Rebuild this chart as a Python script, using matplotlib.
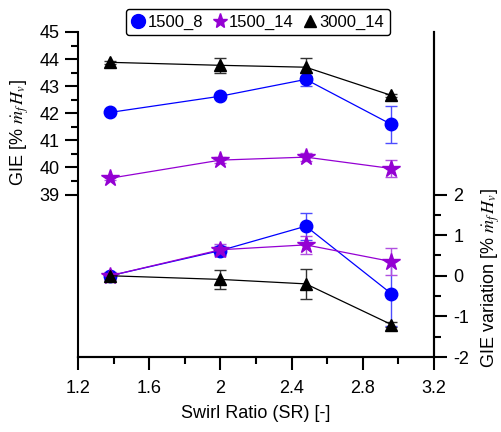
import matplotlib
matplotlib.use("Agg")
import matplotlib.pyplot as plt
from matplotlib.ticker import FixedLocator
from matplotlib.lines import Line2D

plt.rcParams['font.family'] = ['Liberation Sans', 'DejaVu Sans']
plt.rcParams['mathtext.fontset'] = 'stix'
plt.rcParams['axes.unicode_minus'] = False

swirl = [1.38, 2.0, 2.48, 2.96]

gie_1500_8 = [42.03, 42.63, 43.25, 41.59]
gie_1500_8_err = [0.06, 0.08, 0.24, 0.69]
gie_1500_14 = [39.60, 40.27, 40.38, 39.96]
gie_1500_14_err = [0.08, 0.12, 0.15, 0.30]
gie_3000_14 = [43.88, 43.77, 43.70, 42.66]
gie_3000_14_err = [0.05, 0.28, 0.33, 0.06]

var_1500_8 = [0.0, 0.62, 1.22, -0.44]
var_1500_8_err = [0.08, 0.12, 0.33, 0.80]
var_1500_14 = [0.0, 0.64, 0.76, 0.35]
var_1500_14_err = [0.10, 0.15, 0.22, 0.33]
var_3000_14 = [0.0, -0.09, -0.20, -1.20]
var_3000_14_err = [0.06, 0.23, 0.36, 0.07]

series_names = ['1500_8', '1500_14', '3000_14']
colors = ['#0000FF', '#9400D3', '#000000']
ecolors = ['#4D4DFF', '#B050E0', '#333333']
markers = ['o', '*', '^']
msizes = [9, 13, 9]

fig = plt.figure(figsize=(5.01, 4.32), dpi=100)
ax = fig.add_axes([78/501, 1-357/432, (434-78)/501, (357-32)/432])
ax2 = ax.twinx()

left_data = [(gie_1500_8, gie_1500_8_err), (gie_1500_14, gie_1500_14_err), (gie_3000_14, gie_3000_14_err)]
right_data = [(var_1500_8, var_1500_8_err), (var_1500_14, var_1500_14_err), (var_3000_14, var_3000_14_err)]

for i in range(3):
    y, e = left_data[i]
    ax.errorbar(swirl, y, yerr=e, color=colors[i], ecolor=ecolors[i], marker=markers[i],
                ms=msizes[i], lw=0.9, elinewidth=1.0, capsize=4, capthick=1.0)
    y, e = right_data[i]
    ax2.errorbar(swirl, y, yerr=e, color=colors[i], ecolor=ecolors[i], marker=markers[i],
                 ms=msizes[i], lw=0.9, elinewidth=1.0, capsize=4, capthick=1.0)

handles = [Line2D([], [], ls='none', marker=markers[i], color=colors[i],
                  ms=[10, 11, 9][i], label=series_names[i]) for i in range(3)]

ax.set_xlim(1.2, 3.2)
ax.set_ylim(33, 45)
ax2.set_ylim(-2, 6)

ax.set_xticks([1.2, 1.6, 2.0, 2.4, 2.8, 3.2])
ax.set_xticklabels(['1.2', '1.6', '2', '2.4', '2.8', '3.2'])
ax.xaxis.set_minor_locator(FixedLocator([1.4, 1.8, 2.2, 2.6, 3.0]))
ax.set_yticks([39, 40, 41, 42, 43, 44, 45])
ax.yaxis.set_minor_locator(FixedLocator([39.5, 40.5, 41.5, 42.5, 43.5, 44.5]))
ax2.set_yticks([-2, -1, 0, 1, 2])
ax2.yaxis.set_minor_locator(FixedLocator([-1.5, -0.5, 0.5, 1.5]))

for a in (ax, ax2):
    a.spines['top'].set_visible(False)
    for s in a.spines.values():
        s.set_linewidth(1.5)
    a.tick_params(which='major', direction='out', length=9.5, width=1.5, labelsize=13, pad=3.5)
    a.tick_params(which='minor', direction='out', length=5, width=1.5)
ax.tick_params(axis='x', which='major', pad=7)
ax.tick_params(axis='y', which='both', right=False)
ax2.tick_params(axis='y', which='major', pad=4.5)
ax2.spines['left'].set_visible(False)

ax.set_xlabel('Swirl Ratio (SR) [-]', fontsize=13, labelpad=6)
ax.set_ylabel(r'GIE [% $\dot{m}_f\,H_v$]', fontsize=13)
ax.yaxis.set_label_coords((31-78)/356, 0.69)
ax2.set_ylabel(r'GIE variation [% $\dot{m}_f\,H_v$]', fontsize=13)
ax2.yaxis.set_label_coords((479-78)/356, 0.243)

leg = fig.legend(handles=handles, loc='center', bbox_to_anchor=(258/501, 1-22/432), ncol=3,
                 fontsize=12, frameon=True, fancybox=True, edgecolor='black',
                 handlelength=0.8, handletextpad=0.15, columnspacing=0.6, borderpad=0.35,
                 borderaxespad=0)
leg.get_frame().set_linewidth(1.0)
leg.get_frame().set_alpha(1)

fig.savefig('out.png', dpi=100)
